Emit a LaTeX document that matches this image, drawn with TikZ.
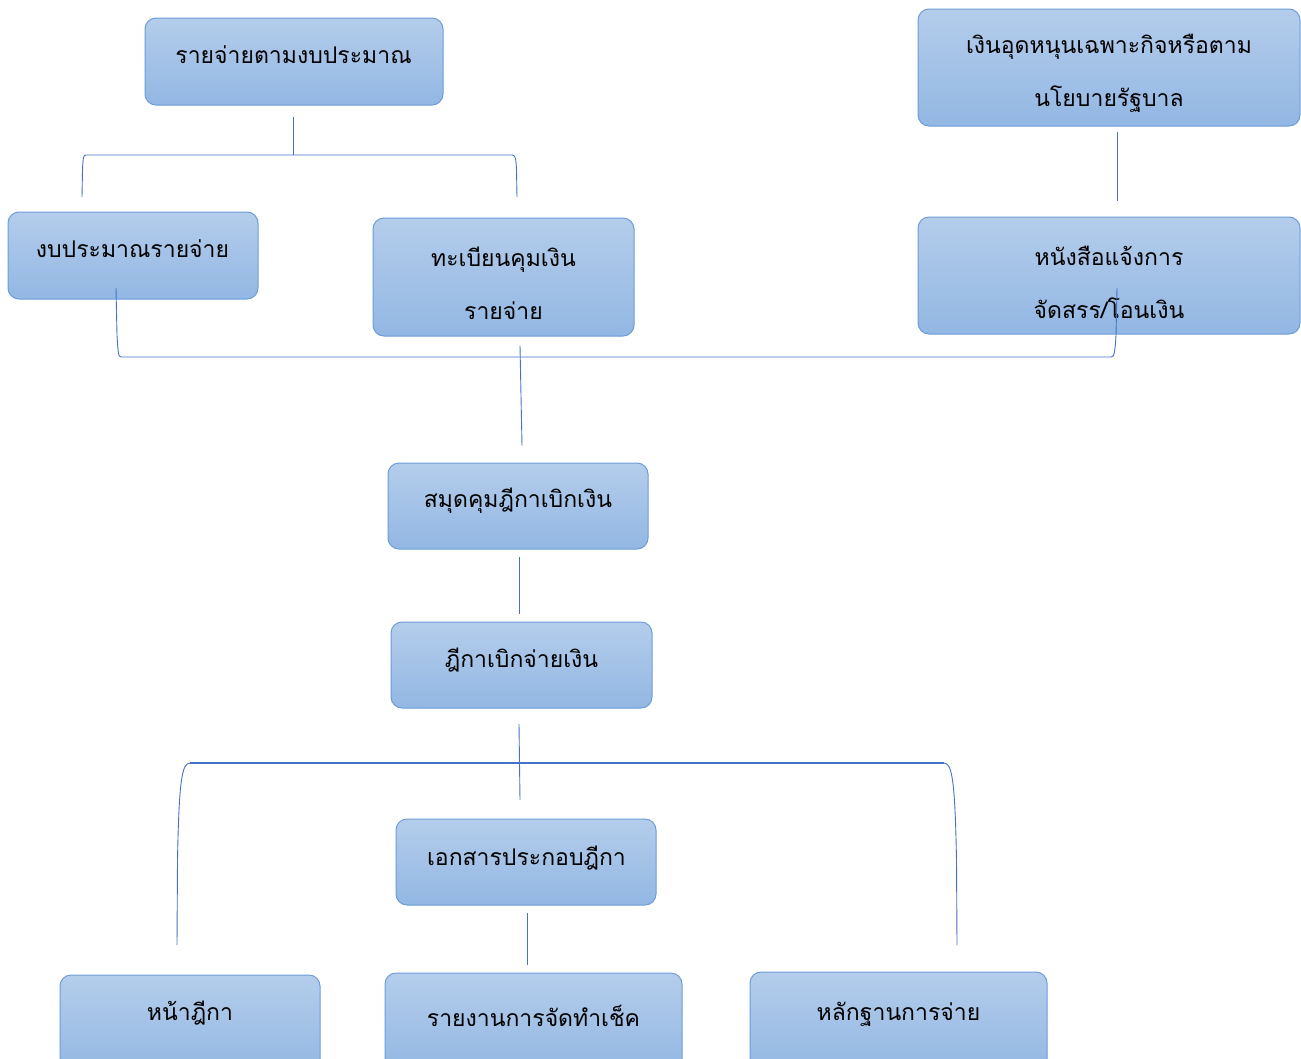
\documentclass[tikz,border=0pt]{standalone}
\usepackage{fontspec}
\newfontfamily\thaifont[Script=Thai]{Loma}
\usetikzlibrary{calc}
\definecolor{boxtop}{RGB}{180,205,235}
\definecolor{boxbot}{RGB}{146,183,227}
\definecolor{boxline}{RGB}{108,157,216}
\definecolor{connc}{RGB}{68,114,196}
\begin{document}
\begin{tikzpicture}[x=1pt,y=-1pt,
  box/.style={draw=boxline, line width=1pt, rounded corners=11pt, top color=boxtop, bottom color=boxbot, inner sep=0pt},
  lbl/.style={inner sep=0pt, align=center, text=black, font=\thaifont\fontsize{23}{53}\selectfont},
  conn/.style={draw=connc, line width=0.9pt}]
\useasboundingbox (0,0) rectangle (1301,1058);
% boxes
\node[box, minimum width=298pt, minimum height=87pt] (b1) at (294,61.5) {};
\node[box, minimum width=250pt, minimum height=87pt] (b2) at (133,255.5) {};
\node[box, minimum width=261pt, minimum height=118pt] (b3) at (503.5,277) {};
\node[box, minimum width=382pt, minimum height=117pt] (b4) at (1109,67.5) {};
\node[box, minimum width=382pt, minimum height=117pt] (b5) at (1109,275.5) {};
\node[box, minimum width=260pt, minimum height=86pt] (b6) at (518,506) {};
\node[box, minimum width=261pt, minimum height=86pt] (b7) at (521.5,665) {};
\node[box, minimum width=260pt, minimum height=86pt] (b8) at (526,862) {};
\node[box, minimum width=260pt, minimum height=100pt] (b9) at (190,1025) {};
\node[box, minimum width=297pt, minimum height=100pt] (b10) at (533.5,1023) {};
\node[box, minimum width=297pt, minimum height=100pt] (b11) at (898.5,1022) {};
% labels
\node[lbl] (x1) at ($(b1)+(-0.5,-6.5)$) {รายจ่ายตามงบประมาณ};
\node[lbl] (x2) at ($(b2)+(-0.5,-6.5)$) {งบประมาณรายจ่าย};
\node[lbl] (x3) at ($(b3)+(0,6.5)$) {ทะเบียนคุมเงิน\\รายจ่าย};
\node[lbl] (x4) at ($(b4)+(0,6)$) {เงินอุดหนุนเฉพาะกิจหรือตาม\\นโยบายรัฐบาล};
\node[lbl] (x5) at ($(b5)+(0,6.5)$) {หนังสือแจ้งการ\\จัดสรร/โอนเงิน};
\node[lbl] (x6) at ($(b6)+(0,-5)$) {สมุดคุมฎีกาเบิกเงิน};
\node[lbl] (x7) at ($(b7)+(0,-5)$) {ฎีกาเบิกจ่ายเงิน};
\node[lbl] (x8) at ($(b8)+(0.5,-4)$) {เอกสารประกอบฎีกา};
\node[lbl] (x9) at ($(b9)+(0,-12)$) {หน้าฎีกา};
\node[lbl] (x10) at ($(b10)+(0,-7)$) {รายงานการจัดทำเช็ค};
\node[lbl] (x11) at ($(b11)+(0,-8)$) {หลักฐานการจ่าย};
% connector end points
\coordinate (t1) at ($(b1.south)+(-1,11)$);
\coordinate (j1) at (293,155);
\coordinate (l1) at (82,197);
\coordinate (r1) at (517,197);
\coordinate (l2) at (116,288);
\coordinate (r2) at (1117,288);
\coordinate (t3) at ($(b3.south)+(16.5,9)$);
\coordinate (e6) at ($(b6.north)+(4,-17)$);
\coordinate (t4) at (1117,132);
\coordinate (e5) at (1117,201);
\coordinate (t6) at (519,557);
\coordinate (e7) at (519,614);
\coordinate (t7) at (519,724);
\coordinate (j7) at (520,800);
\coordinate (l3) at (177,945);
\coordinate (r3) at (957,945);
\coordinate (t8) at (527,913);
\coordinate (e10) at (527,965);
% connectors
\draw[conn] (t1) -- (j1);
\draw[conn] (l1) -- (82.5,170) .. controls (83,157) and (83.5,155) .. (86,155) -- (512,155) .. controls (515,155) and (516,157) .. (516.5,170) -- (r1);
\draw[conn] (l2) -- (117,335) .. controls (118,353) and (118.5,357) .. (121,357) -- (1111,357) .. controls (1114,357) and (1115,353) .. (1116,335) -- (r2);
\draw[conn] (t3) -- (e6);
\draw[conn] (t4) -- (e5);
\draw[conn] (t6) -- (e7);
\draw[conn] (t7) -- (j7);
\draw[conn] (l3) -- (177.5,860) .. controls (179,780) and (182,763) .. (190,763);
\draw[conn, line width=1.4pt] (190,763) -- (944,763);
\draw[conn] (944,763) .. controls (952,763) and (955,780) .. (956.5,860) -- (r3);
\draw[conn] (t8) -- (e10);
\end{tikzpicture}
\end{document}
